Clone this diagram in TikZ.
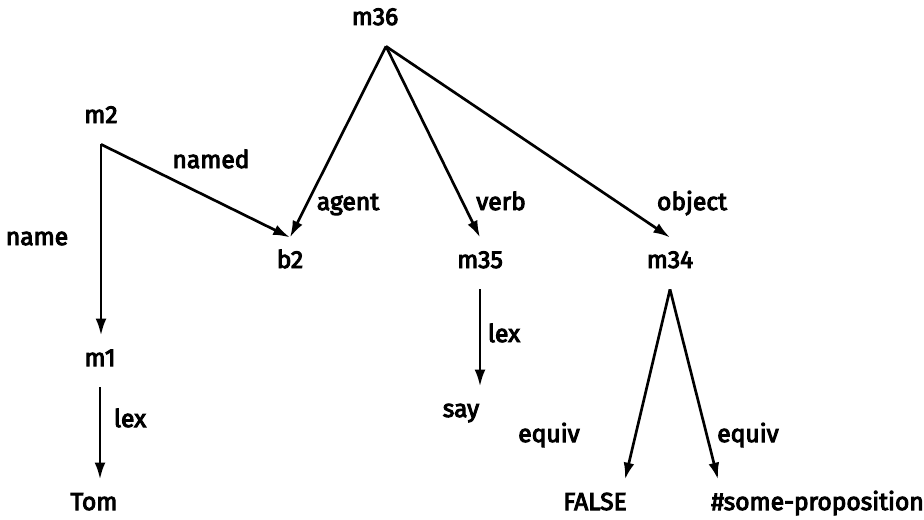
\documentclass[tikz,border=0pt]{standalone}
\usepackage{fontspec}
\setmainfont{Fira Sans}[FakeBold=4]
\usetikzlibrary{arrows.meta}

\tikzset{
  concept/.style={anchor=base, inner xsep=0.1cm, inner ysep=0.3cm,
    text height=0.43cm, text depth=0.2cm},
  arclabel/.style={anchor=base, inner sep=0pt},
}

\begin{document}
\begin{tikzpicture}[x=0.025cm, y=-0.025cm, >={Latex[length=0.42cm, width=0.27cm]},
  font=\fontsize{17.5}{21}\selectfont, line width=1.9pt]
\useasboundingbox (0,0) rectangle (924,519);

% network nodes, placed at their base lines
\node[concept] (m36) at (375,25) {m36};
\node[concept] (m2) at (101,123) {m2};
\node[concept] (b2) at (290,268) {b2};
\node[concept] (m35) at (480,268) {m35};
\node[concept] (m34) at (670,268) {m34};
\node[concept] (m1) at (100,366) {m1};
\node[concept] (say) at (461,417) {say};
\node[concept] (tom) at (94,510) {Tom};
\node[concept] (false) at (595,510) {FALSE};
\node[concept, anchor=base west] (prop) at (706,510) {\#some-proposition};

% arc labels
\node[arclabel] (l-name) at (37,245) {name};
\node[arclabel] (l-named) at (211,168) {named};
\node[arclabel] (l-agent) at (348,210) {agent};
\node[arclabel] (l-verb) at (501,210) {verb};
\node[arclabel] (l-object) at (692,210) {object};
\node[arclabel] (l-lex1) at (130,427) {lex};
\node[arclabel] (l-lex2) at (504,342) {lex};
\node[arclabel] (l-equiv1) at (549,442) {equiv};
\node[arclabel] (l-equiv2) at (748,442) {equiv};

% arcs
\draw[->] ([xshift=0.275cm]m36.south) -- (b2.north);
\draw[->] ([xshift=0.275cm]m36.south) -- (m35.north);
\draw[->] ([xshift=0.275cm]m36.south) -- (m34.north);

\draw[->] (m2.south) -- (b2.north);
\draw[->] (m2) -- (m2 |- m1.north);
\draw[->] (m1) -- (m1 |- tom.north);
\draw[->] (m35) -- (m35 |- say.north);

\draw[->] (m34.south) -- ([xshift=0.75cm]false.north);
\draw[->] (m34.south) -- ([xshift=0.3cm]prop.north west);
\end{tikzpicture}
\end{document}
